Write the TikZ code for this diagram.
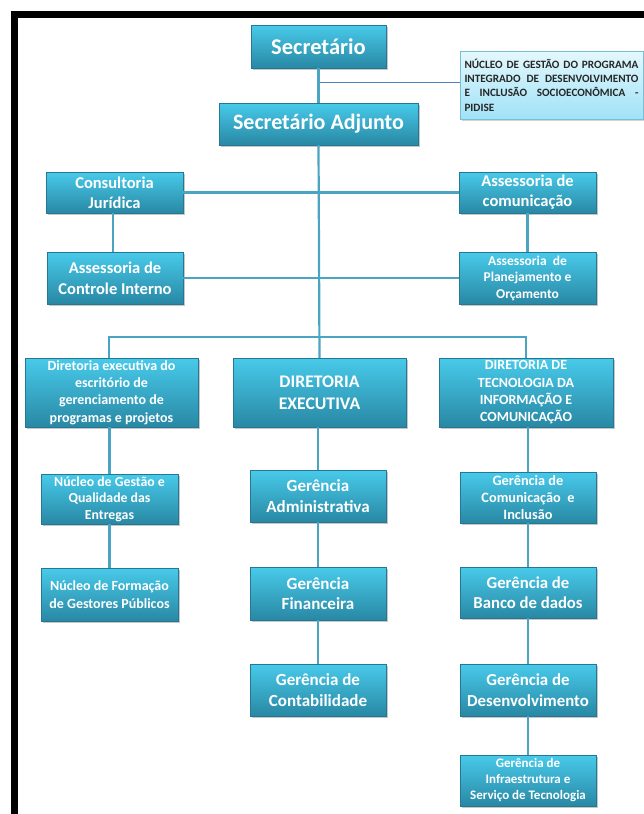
\documentclass[tikz,border=0pt]{standalone}
\usepackage{fontspec}
\setmainfont{Carlito}
\usetikzlibrary{shadows}
\definecolor{boxtop}{RGB}{72,202,234}
\definecolor{boxbot}{RGB}{40,136,164}
\definecolor{boxedge}{RGB}{38,120,146}
\definecolor{linkc}{RGB}{74,164,194}
\definecolor{notetop}{RGB}{228,248,253}
\definecolor{notebot}{RGB}{160,226,246}
\definecolor{noteedge}{RGB}{120,190,215}
\tikzset{
  orgbox/.style={rectangle, draw=boxedge, line width=0.5pt,
    top color=boxtop, bottom color=boxbot,
    drop shadow={shadow xshift=1.5pt, shadow yshift=-1.5pt, opacity=0.45},
    inner sep=0pt, outer sep=0pt, align=center, text=white},
  notebox/.style={rectangle, draw=noteedge, line width=0.5pt,
    top color=notetop, bottom color=notebot,
    drop shadow={shadow xshift=1.5pt, shadow yshift=-1.5pt, opacity=0.35},
    inner sep=0pt, outer sep=0pt, text=black!85},
  link/.style={draw=linkc, line width=2.2pt},
  thinlink/.style={draw={rgb,255:red,79;green,129;blue,189}, line width=0.8pt},
}
\newcommand{\fs}[2]{\fontsize{#1}{#2}\selectfont\bfseries}
\begin{document}
\begin{tikzpicture}[x=1pt,y=-1pt]
\useasboundingbox (0,0) rectangle (644,814);
% outer frame
\draw[line width=7pt, line cap=butt] (14.5,814) -- (14.5,14.5) -- (644,14.5);

% top level
\node[orgbox, minimum width=135pt, minimum height=43pt, font=\fs{22.5}{26}]
  (sec) at (318.5,46.5) {Secretário};
\node[orgbox, minimum width=199pt, minimum height=42pt, font=\fs{22}{26}]
  (adj) at (318.5,124) {Secretário Adjunto};
\node[notebox, minimum width=183pt, minimum height=68pt] (pid) at (551.5,85)
  {\begin{minipage}{174pt}\fs{11.2}{14.3}
   NÚCLEO\hfill DE\hfill GESTÃO\hfill DO\hfill PROGRAMA\break
   INTEGRADO\hfill DE\hfill DESENVOLVIMENTO\break
   E\hfill INCLUSÃO\hfill SOCIOECONÔMICA\hfill -\break
   PIDISE\end{minipage}};

% advisory units
\node[orgbox, minimum width=137pt, minimum height=41pt, font=\fs{16.5}{20}]
  (cons) at (114.5,192.5) {Consultoria\\Jurídica};
\node[orgbox, minimum width=136pt, minimum height=52pt, font=\fs{16.5}{21}]
  (ctrl) at (115,278) {Assessoria de\\Controle Interno};
\node[orgbox, minimum width=137pt, minimum height=41pt, font=\fs{16.5}{20}]
  (com) at (527.5,192.5) {Assessoria de\\comunicação};
\node[orgbox, minimum width=137pt, minimum height=52pt, font=\fs{13.5}{16.5}]
  (plan) at (527.5,278) {Assessoria\ \ de\\Planejamento e\\Orçamento};

% directorates
\node[orgbox, minimum width=173pt, minimum height=69pt, font=\fs{14}{17.3}]
  (dex) at (111.5,392.5) {Diretoria executiva do\\escritório de\\gerenciamento de\\programas e projetos};
\node[orgbox, minimum width=173pt, minimum height=69pt, font=\fs{17.7}{22}]
  (dir) at (319.5,392.5) {DIRETORIA\\EXECUTIVA};
\node[orgbox, minimum width=174pt, minimum height=69pt, font=\fs{14}{17.3}]
  (dti) at (526,392.5) {DIRETORIA DE\\TECNOLOGIA DA\\INFORMAÇÃO E\\COMUNICAÇÃO};

% left column
\node[orgbox, minimum width=137pt, minimum height=50pt, font=\fs{13.8}{16.5}]
  (nq) at (109.5,499) {Núcleo de Gestão e\\Qualidade das\\Entregas};
\node[orgbox, minimum width=137pt, minimum height=53pt, font=\fs{14}{18}]
  (nf) at (109.5,594.5) {Núcleo de Formação\\de Gestores Públicos};

% middle column
\node[orgbox, minimum width=136pt, minimum height=52pt, font=\fs{17}{20.5}]
  (ga) at (318,496) {Gerência\\Administrativa};
\node[orgbox, minimum width=136pt, minimum height=53pt, font=\fs{17}{20.5}]
  (gf) at (318,593.5) {Gerência\\Financeira};
\node[orgbox, minimum width=136pt, minimum height=52pt, font=\fs{17}{20.5}]
  (gc) at (318,690) {Gerência de\\Contabilidade};

% right column
\node[orgbox, minimum width=136pt, minimum height=51pt, font=\fs{14.3}{17}]
  (gci) at (528,497.5) {Gerência de\\Comunicação\ \ e\\Inclusão};
\node[orgbox, minimum width=136pt, minimum height=51pt, font=\fs{16.7}{20.5}]
  (gbd) at (528,592.5) {Gerência de\\Banco de dados};
\node[orgbox, minimum width=136pt, minimum height=52pt, font=\fs{16.8}{20.5}]
  (gd) at (528,690) {Gerência de\\Desenvolvimento};
\node[orgbox, minimum width=136pt, minimum height=51pt, font=\fs{13}{16}]
  (gi) at (528,780.5) {Gerência de\\Infraestrutura e\\Serviço de Tecnologia};

% connectors
\coordinate (tap) at (319,82);
\draw[thinlink] (tap) -- (pid.west |- tap);
\draw[link] (sec.south) -- (adj.north);
\draw[link] (adj.south) -- (dir.north);
\draw[link] (cons.east) -- (com.west);
\draw[link] (ctrl.east) -- (plan.west);
\draw[link] (cons.south -| 113,0) -- (ctrl.north -| 113,0);
\draw[link] (com.south) -- (plan.north);
\draw[link] (dex.north -| 109,0) -- ++(0,-21) -| (dti.north);
\draw[link] (nq.north) -- (nq.north |- dex.south);
\draw[link] (nq.south) -- (nf.north);
\draw[link] (dir.south -| ga.north) -- (ga.north);
\draw[link] (ga.south) -- (gf.north);
\draw[link] (gf.south) -- (gc.north);
\draw[link] (gci.north) -- (gci.north |- dti.south);
\draw[link] (gci.south) -- (gbd.north);
\draw[link] (gbd.south) -- (gd.north);
\draw[link] (gd.south) -- (gi.north);
\end{tikzpicture}
\end{document}
